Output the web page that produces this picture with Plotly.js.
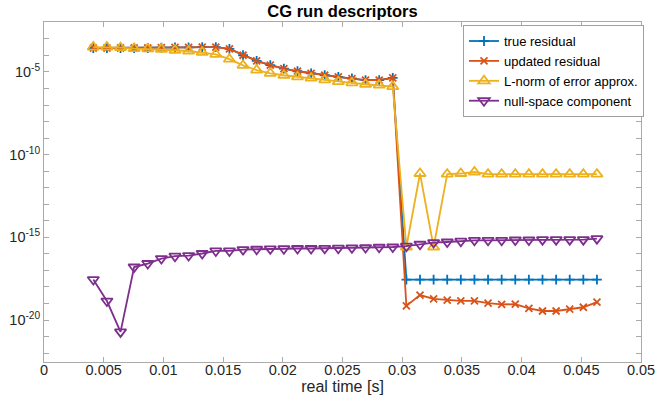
<!DOCTYPE html>
<html>
<head>
<meta charset="utf-8">
<script src="https://cdn.plot.ly/plotly-3.0.1.min.js"></script>
<style>html,body{margin:0;padding:0;background:#fff;}#chart{width:662px;height:403px;}</style>
</head>
<body>
<div id="chart"></div>
<script>
// real time [s]
const timeS = [0.00413,0.00527,0.00641,0.00755,0.00869,0.00983,0.01097,0.01211,0.01325,0.01439,
  0.01553,0.01667,0.01781,0.01895,0.02009,0.02123,0.02237,0.02351,0.02465,0.02579,
  0.02693,0.02807,0.02921,0.03035,0.03149,0.03263,0.03377,0.03491,0.03605,0.03719,
  0.03833,0.03947,0.04061,0.04175,0.04289,0.04403,0.04517,0.04631];

const trueResidual = [2.8e-4,2.8e-4,2.8e-4,2.8e-4,2.8e-4,2.95e-4,3.1e-4,3.1e-4,3.2e-4,3.2e-4,
  2.45e-4,1.02e-4,4.7e-5,2.6e-5,1.6e-5,1.1e-5,8.3e-6,6.3e-6,5.0e-6,4.0e-6,
  3.2e-6,3.2e-6,4.4e-6,2.8e-18,2.8e-18,2.8e-18,2.8e-18,2.8e-18,2.8e-18,2.8e-18,
  2.8e-18,2.8e-18,2.8e-18,2.8e-18,2.8e-18,2.8e-18,2.8e-18,2.8e-18];

const updatedResidual = [2.8e-4,2.8e-4,2.8e-4,2.8e-4,2.8e-4,2.95e-4,3.1e-4,3.1e-4,3.2e-4,3.2e-4,
  2.45e-4,1.02e-4,4.7e-5,2.6e-5,1.6e-5,1.1e-5,8.3e-6,6.3e-6,5.0e-6,4.0e-6,
  3.2e-6,3.2e-6,4.4e-6,7.1e-20,3.2e-19,1.9e-19,1.6e-19,1.45e-19,1.45e-19,1.05e-19,
  8.7e-20,9.1e-20,5.1e-20,3.5e-20,3.5e-20,4.5e-20,5.9e-20,1.2e-19];

const errorNormApprox = [3.2e-4,3.2e-4,2.95e-4,2.6e-4,2.45e-4,2.35e-4,2.05e-4,1.85e-4,1.55e-4,1.17e-4,
  5.9e-5,2.5e-5,1.3e-5,8.3e-6,6.3e-6,5.0e-6,4.2e-6,3.3e-6,2.6e-6,2.2e-6,
  1.8e-6,1.6e-6,1.3e-6,2.6e-16,7.2e-12,2.6e-16,6.6e-12,7.2e-12,8.9e-12,6.6e-12,
  6.6e-12,6.6e-12,6.6e-12,6.6e-12,6.6e-12,6.6e-12,6.6e-12,6.6e-12];

const nullSpace = [2.8e-18,1.4e-19,1.9e-21,1.6e-17,2.6e-17,5.2e-17,7.2e-17,7.9e-17,1.05e-16,1.5e-16,
  1.5e-16,1.8e-16,1.9e-16,2.0e-16,2.05e-16,2.1e-16,2.1e-16,2.15e-16,2.2e-16,2.3e-16,
  2.4e-16,2.5e-16,2.6e-16,2.9e-16,3.8e-16,4.8e-16,5.2e-16,5.8e-16,6.6e-16,6.6e-16,
  6.6e-16,6.9e-16,6.9e-16,7.2e-16,7.2e-16,7.2e-16,7.2e-16,8.3e-16];

const seriesNames = ["true residual","updated residual","L-norm of error approx.","null-space component"];

const xTickVals = [0,0.005,0.01,0.015,0.02,0.025,0.03,0.035,0.04,0.045,0.05];
const xTickText = ["0","0.005","0.01","0.015","0.02","0.025","0.03","0.035","0.04","0.045","0.05"];
const yLabelExps = [-20,-15,-10,-5];
const yMinorExps = [-22,-21,-19,-18,-17,-16,-14,-13,-12,-11,-9,-8,-7,-6,-4,-3,-2];

const yTickVals = yLabelExps.map(e => Math.pow(10, e));
const yTickText = yLabelExps.map(e => "10<sup>" + e + "</sup>");
const yMinorVals = yMinorExps.map(e => Math.pow(10, e));

const colors = ["#0072BD","#D95319","#EDB120","#7E2F8E"];
const font = "Liberation Sans, Arial, Helvetica, sans-serif";

const traces = [
  {x: timeS, y: trueResidual, name: seriesNames[0], mode: "lines+markers",
   line: {color: colors[0], width: 1.8},
   marker: {symbol: "cross-thin-open", size: 7, line: {color: colors[0], width: 1.8}}},
  {x: timeS, y: updatedResidual, name: seriesNames[1], mode: "lines+markers",
   line: {color: colors[1], width: 1.8},
   marker: {symbol: "x-thin-open", size: 7, line: {color: colors[1], width: 1.8}}},
  {x: timeS, y: errorNormApprox, name: seriesNames[2], mode: "lines+markers",
   line: {color: colors[2], width: 1.8},
   marker: {symbol: "triangle-up-open", size: 10, color: colors[2], line: {color: colors[2], width: 1.8}}},
  {x: timeS, y: nullSpace, name: seriesNames[3], mode: "lines+markers",
   line: {color: colors[3], width: 1.8},
   marker: {symbol: "triangle-down-open", size: 10, color: colors[3], line: {color: colors[3], width: 1.8}}}
];

const axisCommon = {
  showline: true, linecolor: "#aaaaaa", linewidth: 1, mirror: "ticks",
  ticks: "inside", ticklen: 5, tickcolor: "#aaaaaa", tickwidth: 1,
  showgrid: false, zeroline: false, automargin: false,
  tickfont: {family: font, size: 14.5, color: "#262626"}
};

const layout = {
  width: 662, height: 403,
  margin: {l: 44, r: 21, t: 22, b: 41},
  paper_bgcolor: "#ffffff", plot_bgcolor: "#ffffff",
  font: {family: font, color: "#262626"},
  title: {text: "<b>CG run descriptors</b>", font: {family: font, size: 16.5, color: "#000000"},
          xref: "paper", x: 0.5, xanchor: "center", yref: "container", y: 0.971, yanchor: "middle"},
  xaxis: Object.assign({}, axisCommon, {
    range: [0, 0.05], tickmode: "array", tickvals: xTickVals, ticktext: xTickText,
    ticklabelstandoff: -5,
    title: {text: "real time [s]", font: {family: font, size: 16, color: "#262626"}, standoff: 3}
  }),
  yaxis: Object.assign({}, axisCommon, {
    type: "log", range: [-22.54, -1.98], tickmode: "array", tickvals: yTickVals, ticktext: yTickText,
    minor: {tickmode: "array", tickvals: yMinorVals, ticks: "inside", ticklen: 5, tickcolor: "#aaaaaa", tickwidth: 1, showgrid: false}
  }),
  legend: {
    x: 1.005, xanchor: "right", y: 0.991, yanchor: "top",
    bgcolor: "#ffffff", bordercolor: "#a0a0a0", borderwidth: 1,
    font: {family: font, size: 13, color: "#000000"},
    itemwidth: 30, tracegroupgap: 0
  },
  showlegend: true
};

Plotly.newPlot("chart", traces, layout, {displayModeBar: false, staticPlot: true});
</script>
</body>
</html>
